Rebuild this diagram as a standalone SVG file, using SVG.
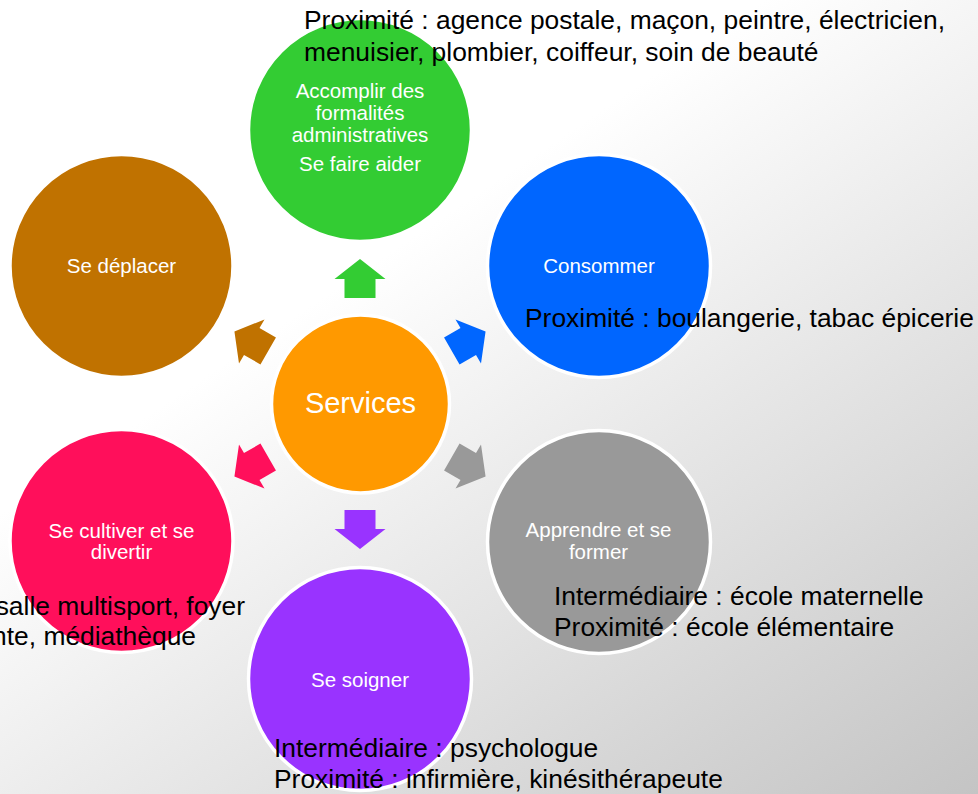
<svg xmlns="http://www.w3.org/2000/svg" width="978" height="794" viewBox="0 0 978 794">
<defs>
<linearGradient id="bg" x1="0.42" y1="0.3" x2="1" y2="1">
<stop offset="0" stop-color="#ffffff"/>
<stop offset="1" stop-color="#c4c4c4"/>
</linearGradient>
<path id="arr" d="M0,-145 L25.5,-125 L15.5,-125 L15.5,-106 L-15.5,-106 L-15.5,-125 L-25.5,-125 Z"/>
</defs>
<style>
.c{stroke:#ffffff;stroke-width:3.5}
.lbl{font-family:"Liberation Sans",Arial,sans-serif;font-size:20.5px;fill:#ffffff;text-anchor:middle}
.big{font-family:"Liberation Sans",Arial,sans-serif;font-size:29px;fill:#ffffff;text-anchor:middle}
.note{font-family:"Liberation Sans",Arial,sans-serif;font-size:26.4px;fill:#000000}
</style>
<rect width="978" height="794" fill="url(#bg)"/>

<g id="connectors" transform="translate(360,404)">
<use href="#arr" fill="#33CC33"/>
<use href="#arr" fill="#0066FF" transform="rotate(60)"/>
<use href="#arr" fill="#999999" transform="rotate(120)"/>
<use href="#arr" fill="#9933FF" transform="rotate(180)"/>
<use href="#arr" fill="#FF0F5B" transform="rotate(240)"/>
<use href="#arr" fill="#C07200" transform="rotate(300)"/>
</g>

<g id="services">
<circle class="c" cx="360.5" cy="404" r="89" fill="#FF9900"/>
<text class="big" x="360.5" y="412.5">Services</text>
</g>

<g id="administratif">
<circle class="c" cx="360" cy="130" r="111.5" fill="#33CC33"/>
<text class="lbl" x="360" y="97.5">Accomplir des</text>
<text class="lbl" x="360" y="119.5">formalités</text>
<text class="lbl" x="360" y="141.5">administratives</text>
<text class="lbl" x="360" y="171">Se faire aider</text>
</g>

<g id="consommer">
<circle class="c" cx="599" cy="266" r="111.5" fill="#0066FF"/>
<text class="lbl" x="599" y="272.5">Consommer</text>
</g>

<g id="apprendre">
<circle class="c" cx="599" cy="542" r="111.5" fill="#999999"/>
<text class="lbl" x="598.5" y="537">Apprendre et se</text>
<text class="lbl" x="598.5" y="558.5">former</text>
</g>

<g id="soigner">
<circle class="c" cx="360" cy="679" r="111.5" fill="#9933FF"/>
<text class="lbl" x="360" y="686.5">Se soigner</text>
</g>

<g id="cultiver">
<circle class="c" cx="121.5" cy="541" r="111.5" fill="#FF0F5B"/>
<text class="lbl" x="121.5" y="537.5">Se cultiver et se</text>
<text class="lbl" x="121.5" y="558.5">divertir</text>
</g>

<g id="deplacer">
<circle class="c" cx="121.5" cy="266" r="111.5" fill="#C07200"/>
<text class="lbl" x="121.5" y="272.5">Se déplacer</text>
</g>

<g id="notes">
<text class="note" x="304" y="29">Proximité : agence postale, maçon, peintre, électricien,</text>
<text class="note" x="304" y="61">menuisier, plombier, coiffeur, soin de beauté</text>
<text class="note" x="525" y="327">Proximité : boulangerie, tabac épicerie</text>
<text class="note" x="554" y="605">Intermédiaire : école maternelle</text>
<text class="note" x="554" y="636">Proximité : école élémentaire</text>
<text class="note" x="274" y="757">Intermédiaire : psychologue</text>
<text class="note" x="274" y="788">Proximité : infirmière, kinésithérapeute</text>
<text class="note" x="245" y="615" text-anchor="end">salle multisport, foyer</text>
<text class="note" x="196" y="645" text-anchor="end">nte, médiathèque</text>
</g>
</svg>
